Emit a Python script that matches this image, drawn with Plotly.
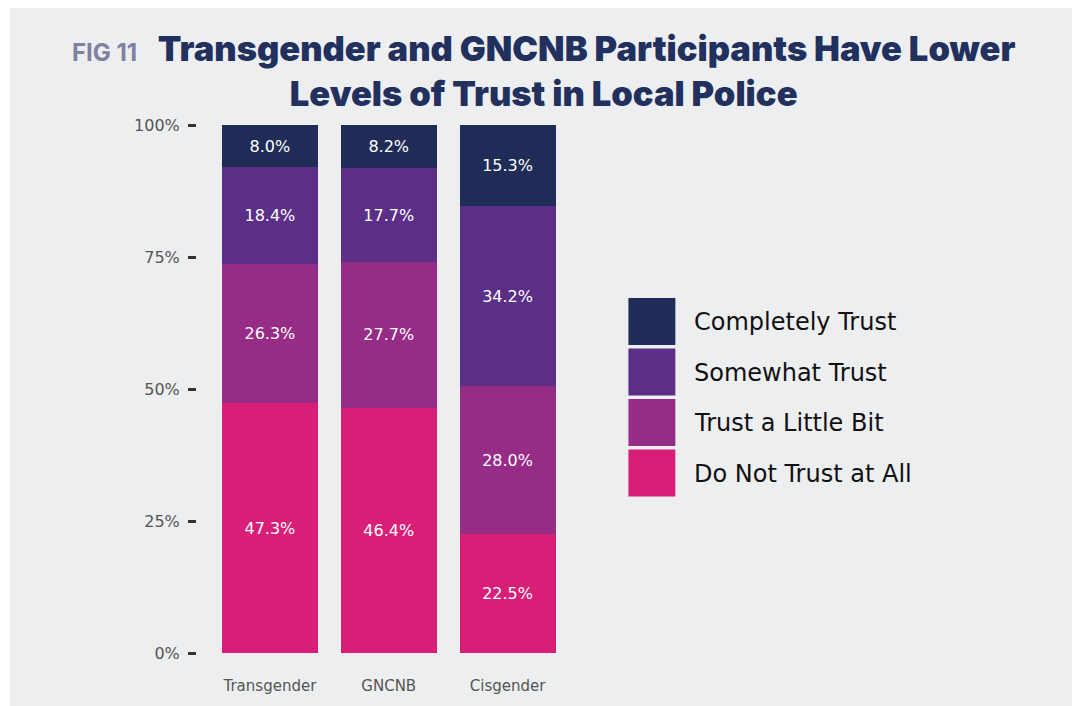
import plotly.graph_objects as go

categories = ["Transgender", "GNCNB", "Cisgender"]
series_names = ["Do Not Trust at All", "Trust a Little Bit", "Somewhat Trust", "Completely Trust"]
do_not_trust = [47.3, 46.4, 22.5]
trust_little = [26.3, 27.7, 28.0]
somewhat_trust = [18.4, 17.7, 34.2]
completely_trust = [8.0, 8.2, 15.3]
series_values = [do_not_trust, trust_little, somewhat_trust, completely_trust]
colors = ["#D91E77", "#972C86", "#5B2F88", "#1F2C57"]
y_ticks = [0, 25, 50, 75, 100]
y_tick_labels = ["0%", "25%", "50%", "75%", "100%"]

OFF = 8  # page body margin
W, H = 1080 - OFF, 706 - OFF
L, T = 197 - OFF, 125 - OFF
R = W - (567.5 - OFF)
B = H - (653 - OFF)
pw = W - L - R
ph = H - T - B

def px_x(x):  # reference screen px -> paper
    return (x - OFF - L) / pw

def px_y(y):
    return (H - B - (y - OFF)) / ph

fig = go.Figure()
for name, vals, col in zip(series_names, series_values, colors):
    fig.add_trace(go.Bar(
        x=categories, y=vals, name=name, marker=dict(color=col, line=dict(width=0)),
        texttemplate="%{y:.1f}%", textposition="inside", insidetextanchor="middle",
        textfont=dict(color="white", size=16, family="DejaVu Sans"),
        showlegend=False, hoverinfo="skip",
    ))

shapes = [dict(type="rect", xref="paper", yref="paper", x0=px_x(10), x1=px_x(1076),
               y0=px_y(730), y1=px_y(6), fillcolor="#EDEEF0", line=dict(width=0), layer="below")]
annotations = []
leg_top = 298
for i, (name, col) in enumerate(zip(reversed(series_names), reversed(colors))):
    y0 = leg_top + i * 50.5
    shapes.append(dict(type="rect", xref="paper", yref="paper", x0=px_x(629), x1=px_x(676),
                       y0=px_y(y0 + 47), y1=px_y(y0), fillcolor=col, line=dict(width=0)))
    annotations.append(dict(xref="paper", yref="paper", x=px_x(693), y=px_y(y0 + 24),
                            text=name, showarrow=False, xanchor="left", yanchor="middle",
                            font=dict(family="DejaVu Sans", size=24, color="#111111")))

annotations.append(dict(
    xref="paper", yref="paper", x=px_x(544), y=px_y(26), xanchor="center", yanchor="top",
    showarrow=False, align="center",
    text="<span style='font-size:24px;color:#8080A0;font-weight:700'>FIG 11</span>   Transgender and GNCNB Participants Have Lower<br>Levels of Trust in Local Police",
    font=dict(family="Inter", size=34.5, color="#22305E", weight=900),
))

fig.update_layout(
    width=W, height=H, margin=dict(l=L, r=R, t=T, b=B, pad=0),
    barmode="stack", bargap=0.193,
    paper_bgcolor="white", plot_bgcolor="rgba(0,0,0,0)",
    shapes=shapes, annotations=annotations, showlegend=False,
    xaxis=dict(range=[-(270 - 197) / 119, 2.5], showgrid=False, showline=False, zeroline=False,
               ticks="", ticklabelstandoff=22,
               tickfont=dict(family="DejaVu Sans", size=15, color="#555555")),
    yaxis=dict(range=[0, 100], tickvals=y_ticks, ticktext=y_tick_labels, showgrid=False,
               showline=False, zeroline=False, ticks="outside", ticklen=8, tickwidth=3,
               tickcolor="#333333", ticklabelstandoff=5,
               tickfont=dict(family="DejaVu Sans", size=16, color="#555555")),
    font=dict(family="DejaVu Sans"),
)

fig.write_html("out.html")
